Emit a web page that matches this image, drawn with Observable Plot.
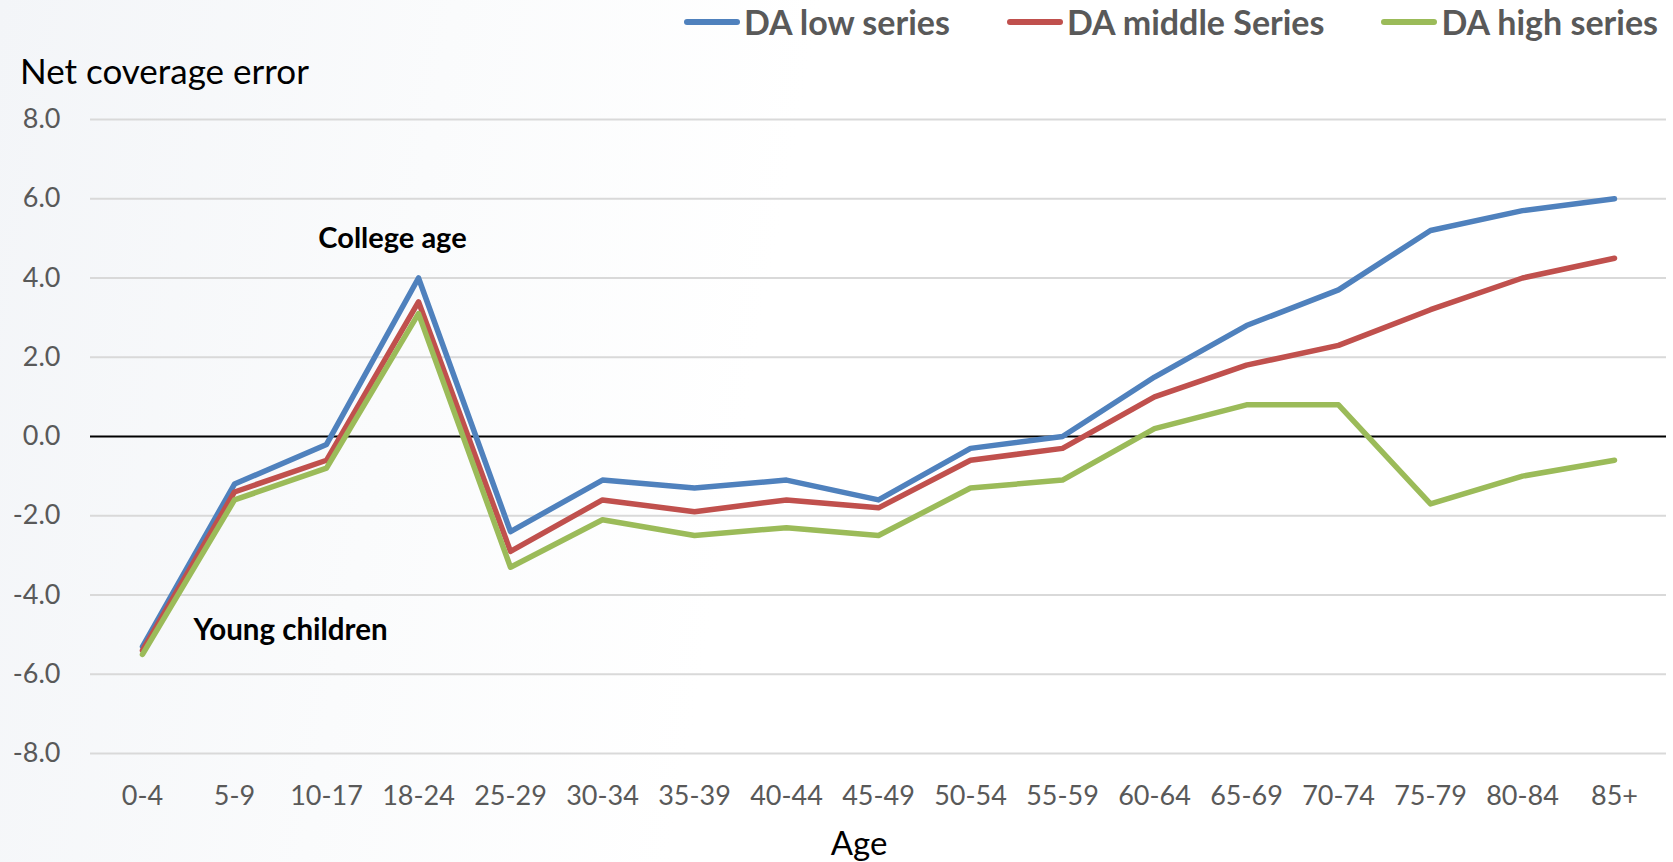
<!DOCTYPE html>
<html>
<head>
<meta charset="utf-8">
<script src="https://cdn.jsdelivr.net/npm/d3@7"></script>
<script src="https://cdn.jsdelivr.net/npm/@observablehq/plot@0.6"></script>
<style>
  html, body { margin: 0; padding: 0; }
  body { width: 1673px; height: 862px; overflow: hidden; font-family: Lato, "Open Sans", sans-serif;
         background: linear-gradient(100deg, #f3f5f8 0%, #fafbfc 25%, #ffffff 45%); }
  #wrap { position: relative; width: 1673px; height: 862px; }
  #chart { position: absolute; left: 0; top: 0; }
  #legend { position: absolute; top: 0; left: 684px; height: 44px; display: flex; align-items: center; }
  .item { display: flex; align-items: center; margin-right: 57px; }
  .sw { width: 56px; height: 6px; border-radius: 3px; margin-right: 4px; }
  .lab { font-size: 34px; font-weight: 700; color: #595959; white-space: nowrap; line-height: 44px; }
  #ytitle { position: absolute; left: 20px; top: 48px; font-size: 35px; color: #000; line-height: 44px; white-space: nowrap; }
  #xtitle { position: absolute; left: 859px; top: 820px; transform: translateX(-50%); font-size: 33px; color: #000; line-height: 44px; }
</style>
</head>
<body>
<div id="wrap">
  <div id="chart"></div>
  <div id="legend"></div>
  <div id="ytitle">Net coverage error</div>
  <div id="xtitle">Age</div>
</div>
<script>
const categories = ["0-4","5-9","10-17","18-24","25-29","30-34","35-39","40-44","45-49","50-54","55-59","60-64","65-69","70-74","75-79","80-84","85+"];
const lowSeries    = [-5.3, -1.2, -0.2, 4.0, -2.4, -1.1, -1.3, -1.1, -1.6, -0.3, 0.0, 1.5, 2.8, 3.7, 5.2, 5.7, 6.0];
const middleSeries = [-5.4, -1.4, -0.6, 3.4, -2.9, -1.6, -1.9, -1.6, -1.8, -0.6, -0.3, 1.0, 1.8, 2.3, 3.2, 4.0, 4.5];
const highSeries   = [-5.5, -1.6, -0.8, 3.1, -3.3, -2.1, -2.5, -2.3, -2.5, -1.3, -1.1, 0.2, 0.8, 0.8, -1.7, -1.0, -0.6];
const seriesNames  = ["DA low series", "DA middle Series", "DA high series"];
const seriesColors = ["#4f81bd", "#c0504d", "#9bbb59"];
const yTicks = [-8, -6, -4, -2, 0, 2, 4, 6, 8];
const annotationLabels = ["College age", "Young children"];
const annotationAges   = ["18-24", "10-17"];
const annotationValues = [5.0, -4.9];

const seriesValues = [lowSeries, middleSeries, highSeries];
const rows = [];
seriesNames.forEach((s, i) => categories.forEach((c, j) => rows.push({series: s, age: c, value: seriesValues[i][j]})));
const notes = annotationLabels.map((t, i) => ({label: t, age: annotationAges[i], value: annotationValues[i]}));

const chart = Plot.plot({
  width: 1673,
  height: 862,
  marginLeft: 90,
  marginRight: 7,
  marginTop: 119,
  marginBottom: 109,
  style: {background: "transparent", fontFamily: "Lato, 'Open Sans', sans-serif"},
  x: {type: "point", domain: categories, padding: 0.5, label: null},
  y: {domain: [-8, 8], label: null},
  color: {domain: seriesNames, range: seriesColors},
  marks: [
    Plot.ruleY(yTicks.filter(d => d !== 0), {stroke: "#d9d9d9", strokeWidth: 1.8}),
    Plot.ruleY([0], {stroke: "#000", strokeWidth: 1.8}),
    Plot.axisY({ticks: yTicks, tickFormat: d => d.toFixed(1), tickSize: 0, tickPadding: 30, fontSize: 27, color: "#595959", label: null}),
    Plot.axisX({tickSize: 0, tickPadding: 32, fontSize: 27, color: "#595959", label: null}),
    Plot.line(rows, {x: "age", y: "value", z: "series", stroke: "series", strokeWidth: 5.5, strokeLinecap: "round", strokeLinejoin: "round"}),
    Plot.text(notes.filter(d => d.label === "College age"), {x: "age", y: "value", text: "label", fontSize: 29, fontWeight: "bold", fill: "#000", dx: -26}),
    Plot.text(notes.filter(d => d.label === "Young children"), {x: "age", y: "value", text: "label", fontSize: 29.5, fontWeight: "bold", fill: "#000", dx: -36})
  ]
});
document.getElementById("chart").appendChild(chart);

const legend = document.getElementById("legend");
seriesNames.forEach((s, i) => {
  const item = document.createElement("div");
  item.className = "item";
  const sw = document.createElement("div");
  sw.className = "sw";
  sw.style.background = seriesColors[i];
  const lab = document.createElement("div");
  lab.className = "lab";
  lab.textContent = s;
  item.appendChild(sw);
  item.appendChild(lab);
  legend.appendChild(item);
});
</script>
</body>
</html>
